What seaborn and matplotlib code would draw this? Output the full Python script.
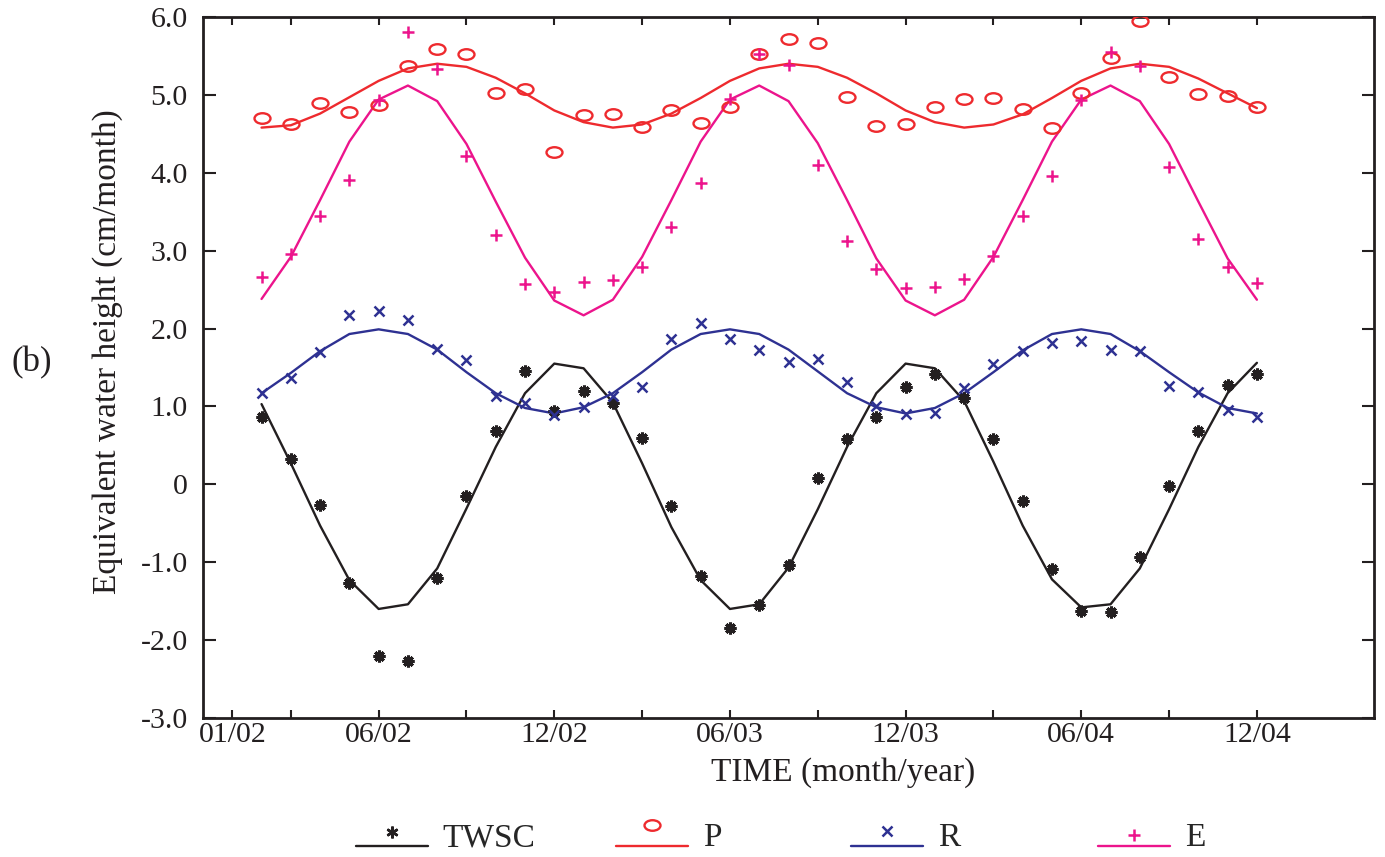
import numpy as np
import pandas as pd
import matplotlib
matplotlib.use("Agg")
import matplotlib.pyplot as plt
import seaborn as sns
from matplotlib.lines import Line2D
from matplotlib.path import Path
from matplotlib.transforms import Affine2D
from matplotlib.legend_handler import HandlerBase

# ---------------- data ----------------
months = list(range(1, 36))  # Feb 2002 ... Dec 2004 (index 0 = 01/02)

twsc_obs = [0.86, 0.32, -0.27, -1.27, -2.21, -2.27, -1.20, -0.15, 0.69, 1.46, 0.94, 1.20,
            1.05, 0.59, -0.28, -1.18, -1.85, -1.55, -1.03, 0.08, 0.58, 0.87, 1.25, 1.42,
            1.11, 0.58, -0.22, -1.09, -1.63, -1.64, -0.93, -0.02, 0.69, 1.27, 1.42]
twsc_fit = [1.03, 0.27, -0.53, -1.23, -1.60, -1.54, -1.08, -0.31, 0.48, 1.17, 1.55, 1.49,
            1.05, 0.27, -0.55, -1.23, -1.60, -1.54, -1.07, -0.32, 0.48, 1.17, 1.55, 1.49,
            1.07, 0.29, -0.53, -1.22, -1.58, -1.54, -1.08, -0.32, 0.48, 1.17, 1.56]

p_obs = [4.70, 4.63, 4.89, 4.78, 4.87, 5.37, 5.59, 5.52, 5.02, 5.07, 4.27, 4.74,
         4.76, 4.59, 4.80, 4.64, 4.84, 5.53, 5.72, 5.67, 4.97, 4.60, 4.63, 4.85,
         4.95, 4.96, 4.82, 4.58, 5.02, 5.47, 5.95, 5.23, 5.01, 4.99, 4.85]
p_fit = [4.58, 4.61, 4.76, 4.97, 5.18, 5.34, 5.40, 5.36, 5.22, 5.02, 4.80, 4.65,
         4.58, 4.62, 4.76, 4.96, 5.18, 5.34, 5.40, 5.36, 5.22, 5.02, 4.80, 4.65,
         4.58, 4.62, 4.75, 4.96, 5.18, 5.34, 5.40, 5.36, 5.21, 5.02, 4.83]

r_obs = [1.17, 1.37, 1.70, 2.17, 2.23, 2.11, 1.74, 1.59, 1.14, 1.05, 0.89, 0.99,
         1.14, 1.25, 1.86, 2.07, 1.87, 1.73, 1.57, 1.61, 1.31, 1.00, 0.90, 0.92,
         1.24, 1.54, 1.71, 1.81, 1.84, 1.72, 1.71, 1.26, 1.19, 0.95, 0.87]
r_fit = [1.17, 1.43, 1.71, 1.93, 1.99, 1.93, 1.73, 1.44, 1.17, 0.98, 0.91, 0.99,
         1.17, 1.44, 1.73, 1.93, 1.99, 1.93, 1.73, 1.45, 1.17, 0.99, 0.91, 0.98,
         1.17, 1.44, 1.72, 1.93, 1.99, 1.93, 1.71, 1.44, 1.18, 0.98, 0.91]

e_obs = [2.66, 2.96, 3.45, 3.91, 4.94, 5.81, 5.33, 4.21, 3.20, 2.57, 2.47, 2.60,
         2.62, 2.79, 3.30, 3.87, 4.95, 5.53, 5.39, 4.10, 3.12, 2.77, 2.52, 2.53,
         2.63, 2.93, 3.44, 3.96, 4.93, 5.55, 5.37, 4.07, 3.15, 2.79, 2.58]
e_fit = [2.38, 2.92, 3.65, 4.40, 4.94, 5.12, 4.92, 4.37, 3.63, 2.91, 2.36, 2.17,
         2.37, 2.92, 3.65, 4.40, 4.94, 5.12, 4.92, 4.38, 3.65, 2.90, 2.36, 2.17,
         2.37, 2.92, 3.65, 4.40, 4.94, 5.12, 4.92, 4.37, 3.63, 2.90, 2.37]

series_names = ["TWSC", "P", "R", "E"]
x_tick_pos = [0, 2, 5, 8, 11, 14, 17, 20, 23, 26, 29, 32, 35]
x_tick_labels = ["01/02", "", "06/02", "", "12/02", "", "06/03", "", "12/03", "", "06/04", "", "12/04"]
y_tick_pos = [6, 5, 4, 3, 2, 1, 0, -1, -2, -3]
y_tick_labels = ["6.0", "5.0", "4.0", "3.0", "2.0", "1.0", "0", "-1.0", "-2.0", "-3.0"]

# ---------------- style ----------------
sns.set_style("ticks")
plt.rcParams["font.family"] = ["Liberation Serif", "DejaVu Serif"]

C_BLACK = "#231F20"
C_RED = "#EE2A2E"
C_BLUE = "#2E3192"
C_MAG = "#EC148C"

ellipse = Path.unit_circle().transformed(Affine2D().scale(1.0, 0.66))

styles = {
    "TWSC": dict(color=C_BLACK, marker=(8, 2, 0), ms=8.5, mew=2.2, mfc=C_BLACK),
    "P": dict(color=C_RED, marker=ellipse, ms=11.5, mew=1.7, mfc="none"),
    "R": dict(color=C_BLUE, marker="x", ms=6.5, mew=1.8, mfc="none"),
    "E": dict(color=C_MAG, marker="+", ms=9, mew=1.8, mfc="none"),
}
obs = {"TWSC": twsc_obs, "P": p_obs, "R": r_obs, "E": e_obs}
fit = {"TWSC": twsc_fit, "P": p_fit, "R": r_fit, "E": e_fit}

fig = plt.figure(figsize=(13.85, 8.57), dpi=100)
ax = fig.add_axes([203 / 1385, 1 - 718 / 857, 1171 / 1385, 701 / 857])

LW = 1.7
for name in series_names:
    st = styles[name]
    df_fit = pd.DataFrame({"month": months, "value": fit[name]})
    sns.lineplot(data=df_fit, x="month", y="value", ax=ax, color=st["color"],
                 linewidth=LW, legend=False, zorder=2)
for name in series_names:
    st = styles[name]
    df_obs = pd.DataFrame({"month": months, "value": obs[name]})
    sns.lineplot(data=df_obs, x="month", y="value", ax=ax, color=st["color"],
                 linestyle="", marker=st["marker"], markersize=st["ms"],
                 markeredgewidth=st["mew"], markeredgecolor=st["color"],
                 markerfacecolor=st["mfc"], legend=False, zorder=3)

ax.set_xlim(-1, 39)
ax.set_ylim(-3, 6)
ax.set_xticks(x_tick_pos, x_tick_labels)
ax.set_yticks(y_tick_pos, y_tick_labels)
ax.tick_params(axis="both", direction="in", top=True, right=True, width=1.5,
               color=C_BLACK, labelcolor=C_BLACK, labelsize=21.5)
ax.tick_params(axis="x", length=6, pad=3)
ax.tick_params(axis="y", length=9, pad=11)
for sp in ax.spines.values():
    sp.set_linewidth(2.0)
    sp.set_color(C_BLACK)
    sp.set_visible(True)

ax.set_xlabel("TIME (month/year)", fontsize=24, color=C_BLACK)
ax.set_ylabel("Equivalent water height (cm/month)", fontsize=24, color=C_BLACK)
ax.xaxis.set_label_coords(0.547, -0.056)
ax.yaxis.set_label_coords(-0.068, 0.522)

fig.text(32 / 1385, 1 - 363 / 857, "(b)", fontsize=25, ha="center", va="center", color=C_BLACK)


# ---------------- legend (marker raised above line) ----------------
class RaisedHandler(HandlerBase):
    def __init__(self, raise_pt, drop_pt=8.0):
        super().__init__()
        self.raise_pt = raise_pt
        self.drop_pt = drop_pt

    def create_artists(self, legend, orig_handle, xdescent, ydescent, width, height,
                       fontsize, trans):
        x0, x1 = -xdescent, -xdescent + width
        ymid = (height - ydescent) / 2
        yl = ymid - self.drop_pt
        line = Line2D([x0, x1], [yl, yl], color=orig_handle.get_color(),
                      linewidth=orig_handle.get_linewidth())
        mk = Line2D([(x0 + x1) / 2], [yl + self.raise_pt], linestyle="none",
                    marker=orig_handle.get_marker(), markersize=orig_handle.get_markersize(),
                    markeredgecolor=orig_handle.get_markeredgecolor(),
                    markerfacecolor=orig_handle.get_markerfacecolor(),
                    markeredgewidth=orig_handle.get_markeredgewidth())
        line.set_transform(trans)
        mk.set_transform(trans)
        return [line, mk]


leg_x = {"TWSC": 356, "P": 616, "R": 851, "E": 1098}
leg_raise = {"TWSC": 10.0, "P": 15.0, "R": 10.5, "E": 8.0}
leg_marker = {"TWSC": (6, 2, 0), "P": ellipse, "R": "x", "E": "+"}
for name in series_names:
    st = styles[name]
    h = Line2D([], [], color=st["color"], linewidth=LW, marker=leg_marker[name],
               markersize=st["ms"], markeredgewidth=1.8 if name == "TWSC" else st["mew"],
               markeredgecolor=st["color"], markerfacecolor=st["mfc"])
    fig.legend(handles=[h], labels=[name], loc="center left",
               bbox_to_anchor=(leg_x[name] / 1385, 1 - 838 / 857),
               frameon=False, fontsize=24, handlelength=2.15, handletextpad=0.45,
               borderpad=0, borderaxespad=0,
               handler_map={h: RaisedHandler(leg_raise[name])})

fig.savefig("out.png", dpi=100)
